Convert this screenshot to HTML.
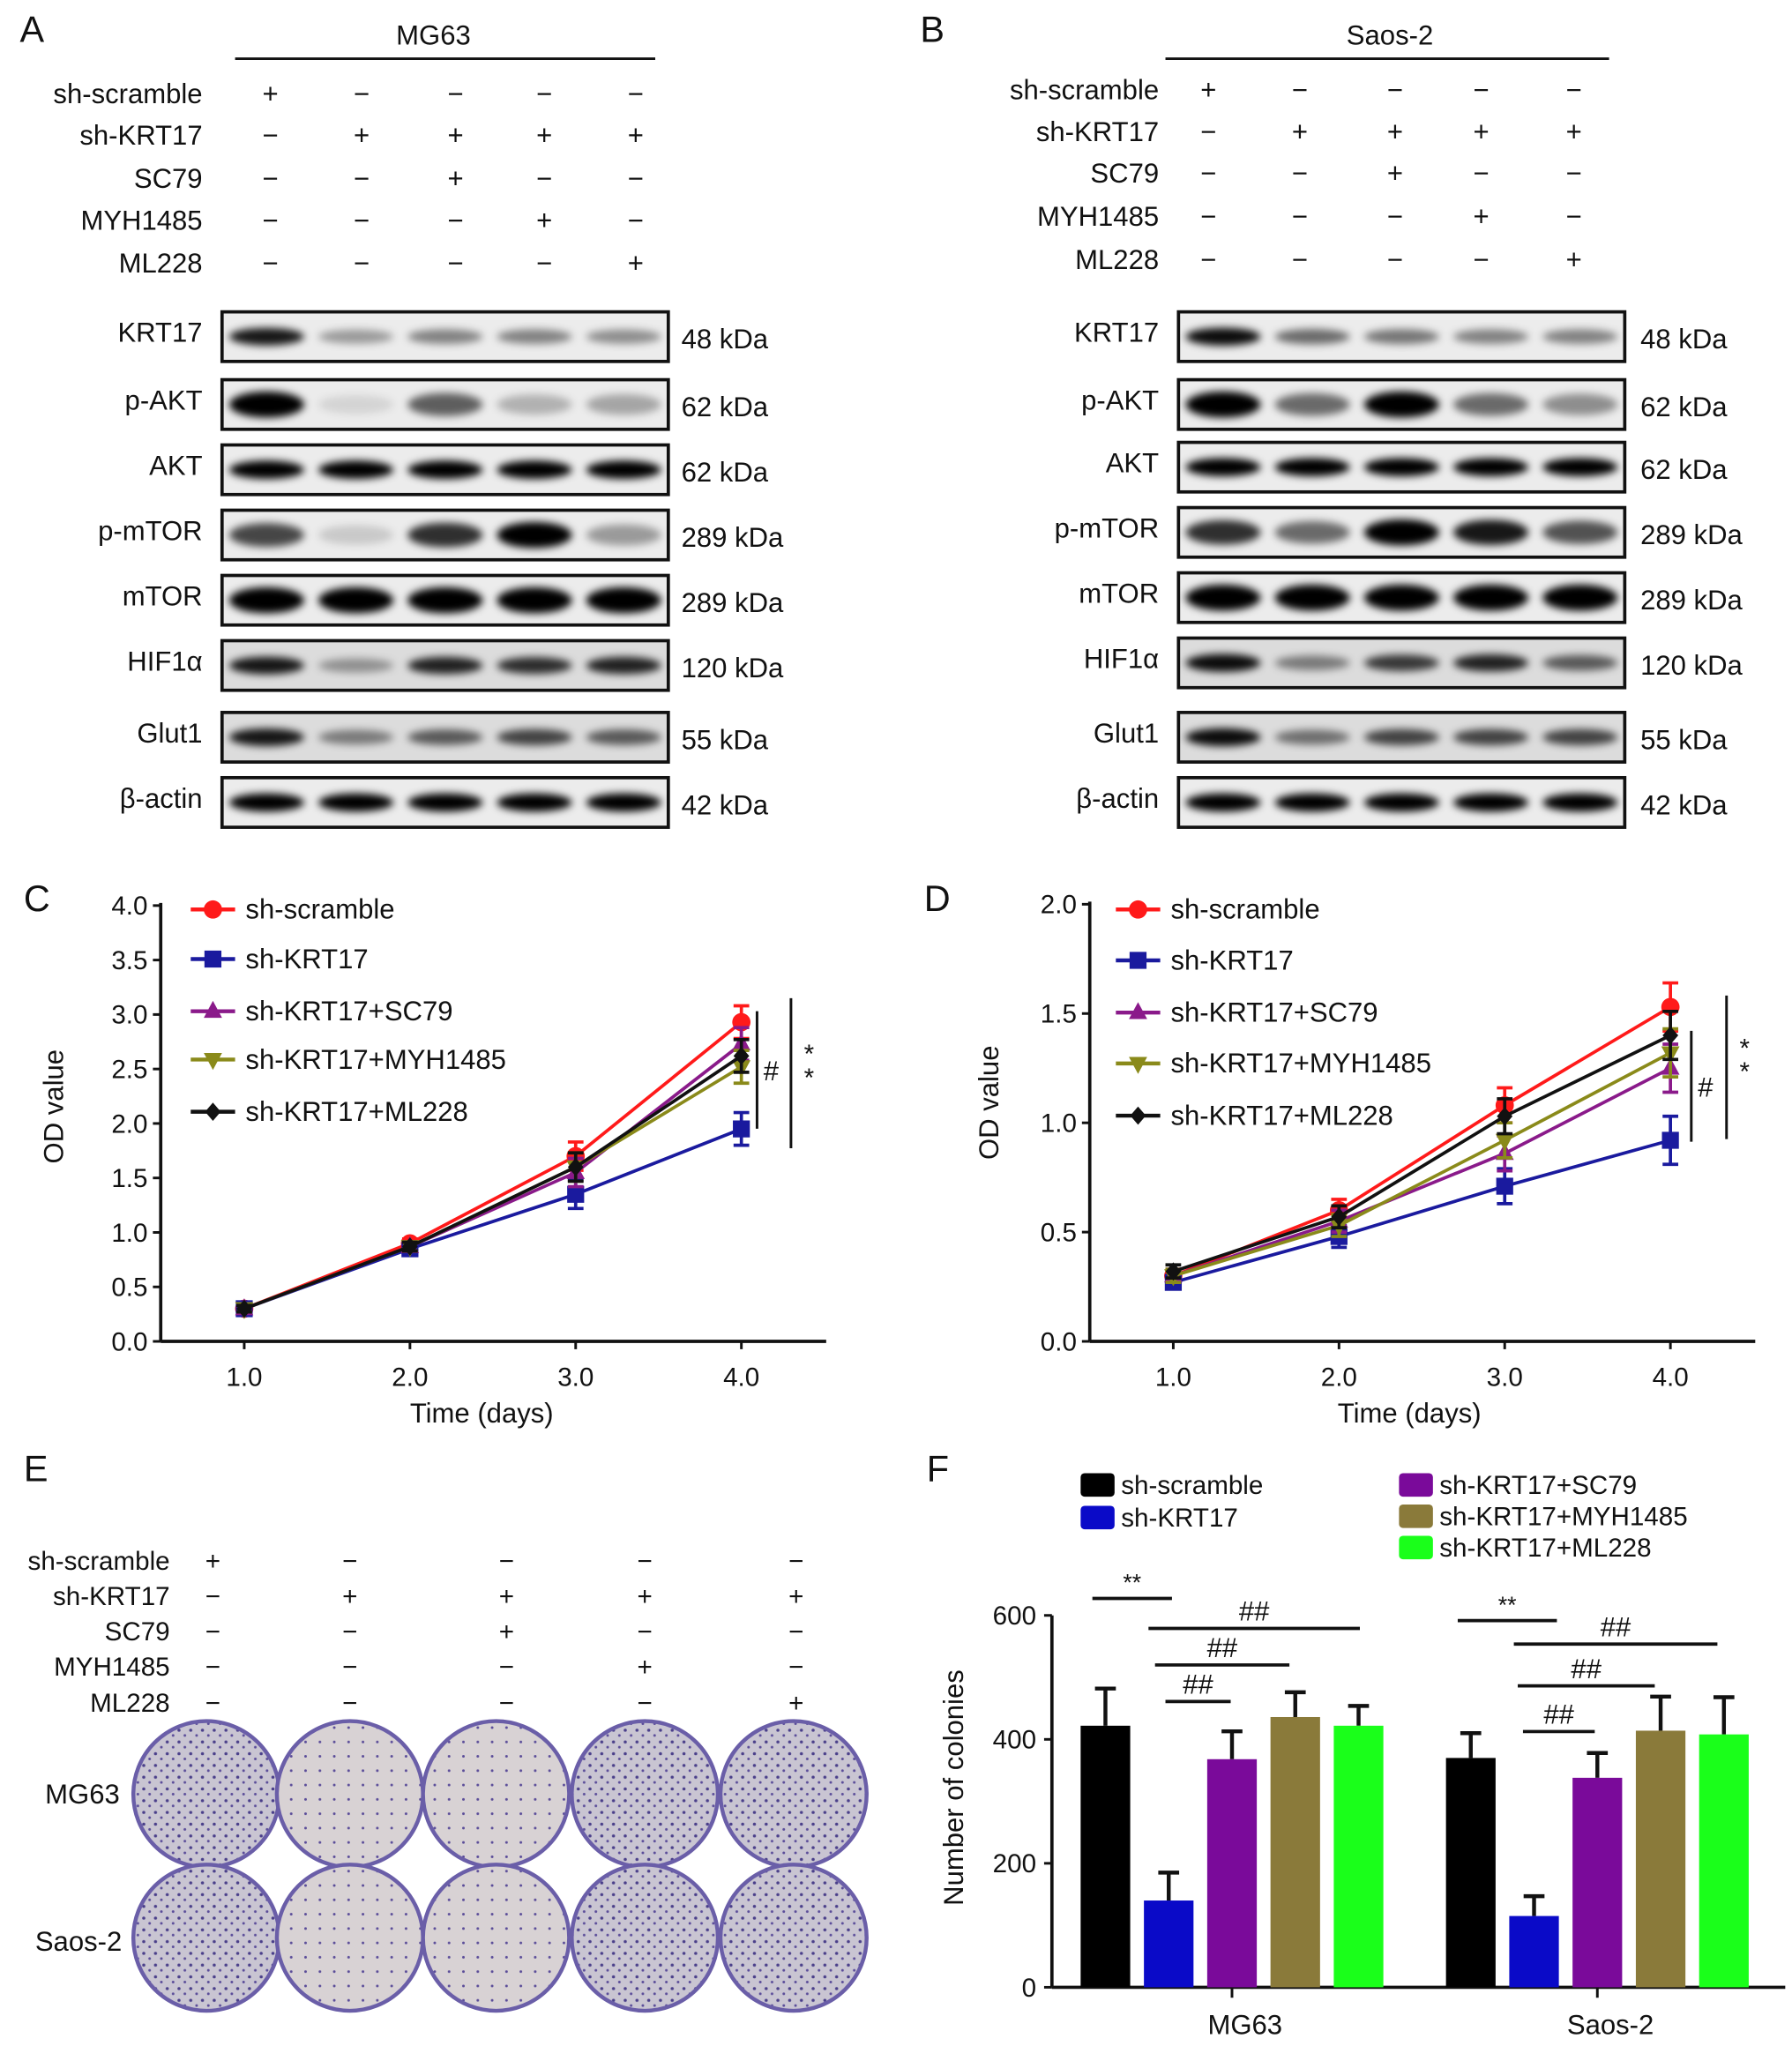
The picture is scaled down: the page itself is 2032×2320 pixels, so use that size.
<!DOCTYPE html>
<html><head><meta charset="utf-8">
<style>
html,body{margin:0;padding:0;background:#fff;}
svg{display:block;font-family:"Liberation Sans",Arial,sans-serif;}
text{fill:#111;}
</style></head>
<body>
<svg id="fig" width="2032" height="2320" viewBox="0 0 1373 1568" xmlns="http://www.w3.org/2000/svg">
<defs>
<filter id="blur" x="-20%" y="-50%" width="140%" height="200%"><feGaussianBlur stdDeviation="3"/></filter>
<pattern id="dots" width="9" height="9" patternUnits="userSpaceOnUse">
<rect width="9" height="9" fill="#c9c5d2"/>
<circle cx="2" cy="3" r="1.2" fill="#4a3f8a"/><circle cx="6.5" cy="7" r="1" fill="#5a4c99"/>
</pattern>
<pattern id="dotsLight" width="11" height="11" patternUnits="userSpaceOnUse">
<rect width="11" height="11" fill="#d8d2d4"/>
<circle cx="3" cy="4" r="1" fill="#5a4c99"/>
</pattern>
</defs>
<g id="panelA"></g>
<g id="panelB"></g>
<g id="panelC"></g>
<g id="panelD"></g>
<g id="panelE"></g>
<g id="panelF"></g>
</svg>
<script>
// ---------- data ----------
const treatRows = ["sh-scramble","sh-KRT17","SC79","MYH1485","ML228"];
const treatSigns = [["+","−","−","−","−"],["−","+","+","+","+"],["−","−","+","−","−"],["−","−","−","+","−"],["−","−","−","−","+"]];
const proteins = ["KRT17","p-AKT","AKT","p-mTOR","mTOR","HIF1α","Glut1","β-actin"];
const kda = ["48 kDa","62 kDa","62 kDa","289 kDa","289 kDa","120 kDa","55 kDa","42 kDa"];
const bandsA = [[0.9,0.35,0.45,0.45,0.4],[1,0.1,0.6,0.25,0.3],[1,1,1,1,1],[0.7,0.15,0.8,1,0.35],[1,1,1,1,1],[0.9,0.35,0.85,0.8,0.85],[0.9,0.45,0.6,0.7,0.6],[1,1,1,1,1]];
const bandsB = [[0.95,0.55,0.5,0.45,0.45],[1,0.55,1,0.55,0.4],[1,1,1,1,1],[0.8,0.55,1,0.9,0.65],[1,1,1,1,1],[0.95,0.45,0.75,0.85,0.6],[0.95,0.5,0.7,0.7,0.7],[1,1,1,1,1]];
const days = [1,2,3,4];
const seriesNames = ["sh-scramble","sh-KRT17","sh-KRT17+SC79","sh-KRT17+MYH1485","sh-KRT17+ML228"];
const cScramble = [0.3,0.9,1.7,2.93];
const cKRT17 = [0.3,0.85,1.35,1.95];
const cSC79 = [0.3,0.87,1.55,2.73];
const cMYH = [0.3,0.87,1.6,2.52];
const cML228 = [0.3,0.87,1.6,2.62];
const cErr = [0.03,0.04,0.13,0.15];
const dScramble = [0.3,0.6,1.08,1.53];
const dKRT17 = [0.27,0.48,0.71,0.92];
const dSC79 = [0.3,0.55,0.86,1.25];
const dMYH = [0.3,0.53,0.92,1.32];
const dML228 = [0.32,0.57,1.03,1.4];
const dErr = [0.03,0.05,0.08,0.11];
const cTicks = [0,0.5,1,1.5,2,2.5,3,3.5,4];
const dTicks = [0,0.5,1,1.5,2];
const xTickLabels = ["1.0","2.0","3.0","4.0"];
const fGroups = ["MG63","Saos-2"];
const fMG63 = [422,140,368,436,422];
const fMG63Err = [60,45,45,40,32];
const fSaos = [370,115,338,414,408];
const fSaosErr = [40,32,40,55,60];
const fTicks = [0,200,400,600];
// ---------- helpers ----------
const NS="http://www.w3.org/2000/svg";
function el(parent,tag,attrs,txt){const e=document.createElementNS(NS,tag);for(const k in attrs)e.setAttribute(k,attrs[k]);if(txt!==undefined)e.textContent=txt;parent.appendChild(e);return e;}
const colors=["#ff1a1a","#1a1a9e","#8a1a8a","#8a8a1a","#111"];

// ---------- blots ----------
function blotPanel(g,letter,lx,title,titleX,lineX1,lineX2,labelX,rowYs,cols,boxX1,boxX2,boxYs,bands,kdaX){
  let t=el(g,"text",{x:lx,y:32,"font-size":28});t.textContent=letter;
  
  
  t=el(g,"text",{x:titleX,y:34,"font-size":21,"text-anchor":"middle"},title);
  
  
  el(g,"line",{x1:lineX1,x2:lineX2,y1:45,y2:45,stroke:"#111","stroke-width":2});
  treatRows.forEach((r,i)=>{
    const tt=el(g,"text",{x:labelX,y:rowYs[i]+7,"font-size":21,"text-anchor":"end"},r);
    
    
    cols.forEach((cx,j)=>{el(g,"text",{x:cx,y:rowYs[i]+7,"font-size":21,"text-anchor":"middle"},treatSigns[i][j]);});
  });
  proteins.forEach((p,i)=>{
    const cy=boxYs[i];
    const pl=el(g,"text",{x:boxX1-15,y:cy+4,"font-size":21,"text-anchor":"end"},p);
    
    
    const bg=i===5||i===6?"#dcdcdc":"#ececec";
    const box=el(g,"rect",{x:boxX1,y:cy-19,width:boxX2-boxX1,height:38,fill:bg,stroke:"#111","stroke-width":2.5});
    
    
    const lw=(boxX2-boxX1)/5;
    bands[i].forEach((v,j)=>{
      const bx=boxX1+lw*(j+0.5);
      const h=(i===1||i===3||i===4)?12+6*v:7+5*v;
      const b=el(g,"ellipse",{cx:bx,cy:cy,rx:lw*0.42,ry:h/2+1,fill:"#000","fill-opacity":v,filter:"url(#blur)"});
      
      
    });
    el(g,"text",{x:kdaX,y:cy+9,"font-size":21},kda[i]);
  });
}
blotPanel(document.getElementById("panelA"),"A",15,"MG63",332,180,502,155,[72,104,137,169,202],[207,277,349,417,487],170,512,[258,310,360,410,460,510,565,615],bandsA,522);
blotPanel(document.getElementById("panelB"),"B",705,"Saos-2",1065,893,1233,888,[69,101,133,166,199],[926,996,1069,1135,1206],903,1245,[258,310,358,408,458,508,565,615],bandsB,1257);

// ---------- line charts ----------
function marker(g,k,x,y,c){
  let m;
  if(k===0)m=el(g,"circle",{cx:x,cy:y,r:7,fill:c});
  else if(k===1)m=el(g,"rect",{x:x-6.5,y:y-6.5,width:13,height:13,fill:c});
  else if(k===2)m=el(g,"polygon",{points:`${x},${y-8} ${x+7},${y+5} ${x-7},${y+5}`,fill:c});
  else if(k===3)m=el(g,"polygon",{points:`${x},${y+8} ${x+7},${y-5} ${x-7},${y-5}`,fill:c});
  else m=el(g,"polygon",{points:`${x},${y-7} ${x+6},${y} ${x},${y+7} ${x-6},${y}`,fill:c});
  return m;
}
function lineChart(g,letter,lx,ax,x0,x1,y0,yTop,ymax,ticks,xs,series,err,legX,legYs,ylabX,ylabY,xlabX,sig){
  const Y=v=>y0-(v/ymax)*(y0-yTop);
  const X=d=>xs[0]+(d-1)*(xs[1]-xs[0]);
  let t=el(g,"text",{x:lx,y:698,"font-size":28},letter);
  
  const yax=el(g,"line",{x1:ax,x2:ax,y1:yTop-2,y2:y0,stroke:"#111","stroke-width":2.5});
  
  const xax=el(g,"line",{x1:ax,x2:x1,y1:y0,y2:y0,stroke:"#111","stroke-width":2.5});
  
  ticks.forEach(v=>{el(g,"line",{x1:ax-6,x2:ax,y1:Y(v),y2:Y(v),stroke:"#111","stroke-width":2});
    const tl=el(g,"text",{x:ax-10,y:Y(v)+7,"font-size":20,"text-anchor":"end"},v.toFixed(1));
    });
  days.forEach((d,i)=>{el(g,"line",{x1:X(d),x2:X(d),y1:y0,y2:y0+6,stroke:"#111","stroke-width":2});
    const tl=el(g,"text",{x:X(d),y:y0+34,"font-size":20,"text-anchor":"middle"},xTickLabels[i]);
    });
  t=el(g,"text",{x:xlabX,y:y0+62,"font-size":21,"text-anchor":"middle"},"Time (days)");
  
  t=el(g,"text",{x:ylabX,y:ylabY,"font-size":21,"text-anchor":"middle",transform:`rotate(-90 ${ylabX} ${ylabY})`},"OD value");
  
  series.forEach((s,k)=>{
    const pts=s.map((v,i)=>`${X(days[i])},${Y(v)}`).join(" ");
    const pl=el(g,"polyline",{points:pts,fill:"none",stroke:colors[k],"stroke-width":2.5});
    
    s.forEach((v,i)=>{
      const x=X(days[i]);
      el(g,"line",{x1:x,x2:x,y1:Y(v+err[i]),y2:Y(v-err[i]),stroke:colors[k],"stroke-width":2.5});
      el(g,"line",{x1:x-6,x2:x+6,y1:Y(v+err[i]),y2:Y(v+err[i]),stroke:colors[k],"stroke-width":2.5});
      el(g,"line",{x1:x-6,x2:x+6,y1:Y(v-err[i]),y2:Y(v-err[i]),stroke:colors[k],"stroke-width":2.5});
      const m=marker(g,k,x,Y(v),colors[k]);
      
    });
  });
  seriesNames.forEach((n,k)=>{
    const y=legYs[k];
    el(g,"line",{x1:legX-17,x2:legX+17,y1:y,y2:y,stroke:colors[k],"stroke-width":3});
    marker(g,k,legX,y,colors[k]);
    const lt=el(g,"text",{x:legX+25,y:y+7,"font-size":21},n);
    
  });
  el(g,"line",{x1:sig[0],x2:sig[0],y1:sig[1],y2:sig[2],stroke:"#111","stroke-width":2});
  el(g,"text",{x:sig[0]+5,y:(sig[1]+sig[2])/2+8,"font-size":21},"#");
  el(g,"line",{x1:sig[3],x2:sig[3],y1:sig[4],y2:sig[5],stroke:"#111","stroke-width":2});
  el(g,"text",{x:sig[3]+10,y:(sig[4]+sig[5])/2-8,"font-size":20,fill:"#555"},"*");
  el(g,"text",{x:sig[3]+10,y:(sig[4]+sig[5])/2+10,"font-size":20,fill:"#555"},"*");
}
lineChart(document.getElementById("panelC"),"C",18,123,123,633,1028,694,4,cTicks,[187,314],[cScramble,cKRT17,cSC79,cMYH,cML228],cErr,163,[697,735,775,812,852],48,848,369,[580,775,865,606,765,880]);
lineChart(document.getElementById("panelD"),"D",708,835,835,1345,1028,693,2,dTicks,[899,1026],[dScramble,dKRT17,dSC79,dMYH,dML228],dErr,872,[697,736,776,815,855],765,845,1080,[1296,790,875,1323,763,873]);

// ---------- panel E ----------
(function(){
  const g=document.getElementById("panelE");
  let t=el(g,"text",{x:18,y:1135,"font-size":28},"E");
  
  const rowY=[1196,1223,1250,1277,1305], cols=[163,268,388,494,610];
  treatRows.forEach((r,i)=>{
    const tl=el(g,"text",{x:130,y:rowY[i]+7,"font-size":20,"text-anchor":"end"},r);
    
    cols.forEach((c,j)=>el(g,"text",{x:c,y:rowY[i]+7,"font-size":20,"text-anchor":"middle"},treatSigns[i][j]));
  });
  const px=[158,268,380,494,608], py=[1375,1485];
  const dens=[[1,0,0,1,1],[1,0,0,1,1]];
  py.forEach((y,r)=>{
    px.forEach((x,j)=>{
      const c=el(g,"circle",{cx:x,cy:y,r:56,fill:dens[r][j]?"url(#dots)":"url(#dotsLight)",stroke:"#6a5ea8","stroke-width":3});
      
    });
  });
  t=el(g,"text",{x:63,y:1382,"font-size":21,"text-anchor":"middle"},"MG63");
  
  t=el(g,"text",{x:60,y:1495,"font-size":21,"text-anchor":"middle"},"Saos-2");
  
})();

// ---------- panel F ----------
(function(){
  const g=document.getElementById("panelF");
  const barColors=["#000","#0a0ac8","#7a0a9a","#8a7a3a","#1aff1a"];
  const y0=1523,yTop=1238,ax=806;
  const Y=v=>y0-v/600*(y0-yTop);
  let t=el(g,"text",{x:710,y:1135,"font-size":28},"F");
  
  const ya=el(g,"line",{x1:ax,x2:ax,y1:yTop,y2:y0,stroke:"#111","stroke-width":2.5});
  
  const xa=el(g,"line",{x1:ax,x2:1368,y1:y0,y2:y0,stroke:"#111","stroke-width":2.5});
  
  fTicks.forEach(v=>{el(g,"line",{x1:ax-6,x2:ax,y1:Y(v),y2:Y(v),stroke:"#111","stroke-width":2});
    const tl=el(g,"text",{x:ax-12,y:Y(v)+7,"font-size":20,"text-anchor":"end"},String(v));
    });
  t=el(g,"text",{x:738,y:1370,"font-size":21,"text-anchor":"middle",transform:"rotate(-90 738 1370)"},"Number of colonies");
  
  const groupStart=[828,1108], step=48.5, bw=38;
  [[fMG63,fMG63Err],[fSaos,fSaosErr]].forEach((grp,gi)=>{
    const [vals,errs]=grp;
    vals.forEach((v,k)=>{
      const x=groupStart[gi]+k*step;
      const cx=x+bw/2;
      el(g,"line",{x1:cx,x2:cx,y1:Y(v),y2:Y(v+errs[k]),stroke:"#111","stroke-width":3});
      el(g,"line",{x1:cx-8,x2:cx+8,y1:Y(v+errs[k]),y2:Y(v+errs[k]),stroke:"#111","stroke-width":3});
      const b=el(g,"rect",{x:x,y:Y(v),width:bw,height:y0-Y(v),fill:barColors[k]});
      
    });
    const mid=groupStart[gi]+2*step+bw/2;
    el(g,"line",{x1:mid,x2:mid,y1:y0,y2:y0+8,stroke:"#111","stroke-width":2});
    const gl=el(g,"text",{x:mid+10,y:y0+36,"font-size":21,"text-anchor":"middle"},fGroups[gi]);
    
  });
  const leg=[[828,1138],[828,1163],[1072,1138],[1072,1162],[1072,1186]];
  seriesNames.forEach((n,k)=>{
    el(g,"rect",{x:leg[k][0],y:leg[k][1]-9,width:26,height:18,rx:3,fill:barColors[k]});
    const lt=el(g,"text",{x:leg[k][0]+31,y:leg[k][1]+7,"font-size":20},n);
    
  });
  const sigs=[[837,898,1225,"**"],[880,1042,1248,"##"],[885,988,1276,"##"],[893,943,1304,"##"],[1117,1193,1242,"**"],[1160,1316,1260,"##"],[1163,1268,1292,"##"],[1167,1222,1327,"##"]];
  sigs.forEach(s=>{
    el(g,"line",{x1:s[0],x2:s[1],y1:s[2],y2:s[2],stroke:"#111","stroke-width":2.5});
    const st=el(g,"text",{x:(s[0]+s[1])/2,y:s[2]-6,"font-size":s[3]==="**"?18:21,"text-anchor":"middle",fill:s[3]==="**"?"#555":"#111"},s[3]);
    
  });
})();
</script>
</body></html>
